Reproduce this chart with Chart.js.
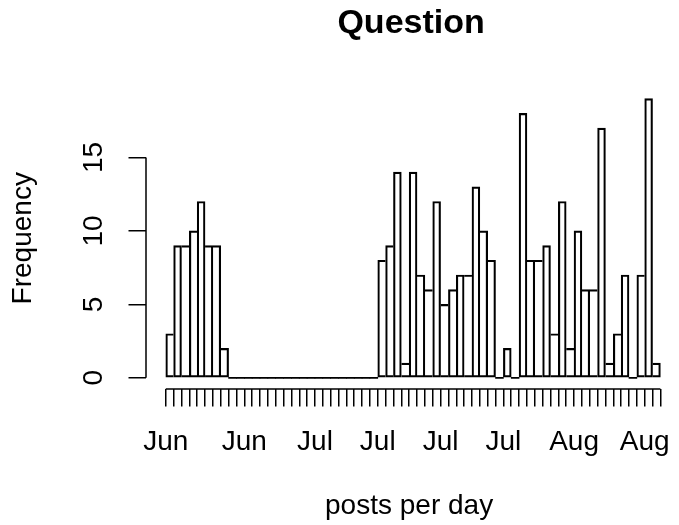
<!DOCTYPE html>
<html>
<head>
<meta charset="utf-8">
<script src="https://cdn.jsdelivr.net/npm/chart.js@4.4.1/dist/chart.umd.min.js"></script>
<style>
html,body{margin:0;padding:0;background:#ffffff;}
canvas{display:block;}
</style>
</head>
<body>
<canvas id="c" width="679" height="525"></canvas>
<script>
// Daily post counts (one bin per day)
const dayCounts = [
  3, 9, 9, 10, 12, 9, 9, 2,
  0, 0, 0, 0, 0, 0, 0, 0, 0, 0, 0, 0, 0, 0, 0, 0, 0, 0, 0,
  8, 9, 14, 1, 14, 7, 6, 12, 5, 6, 7, 7, 13, 10, 8, 0, 2, 0,
  18, 8, 8, 9, 3, 12, 2, 10, 6, 6, 17, 1, 3, 7, 0, 7, 19, 1
];
// x-axis labels shown (bin edge index -> month label)
const monthLabelAt   = [0, 10, 19, 27, 35, 43, 52, 61];
const monthLabelText = ['Jun', 'Jun', 'Jul', 'Jul', 'Jul', 'Jul', 'Aug', 'Aug'];
const yTickValues = [0, 5, 10, 15];
const titleText = 'Question';
const xTitle = 'posts per day';
const yTitle = 'Frequency';

const FONT = '"Liberation Sans", Arial, Helvetica, sans-serif';
const LW = 1.5;
const nBins = dayCounts.length;

Chart.defaults.font.family = FONT;
Chart.defaults.color = '#000';

function sideWidths(ctx) {
  const i = ctx.dataIndex;
  const h = dayCounts[i];
  const prev = i > 0 ? dayCounts[i - 1] : -1;
  const next = i < nBins - 1 ? dayCounts[i + 1] : -1;
  if (h === 0) return 0;
  return {
    top: LW,
    bottom: LW,
    left: h > prev ? LW : 0,
    right: h >= next ? LW : 0
  };
}

const rAxes = {
  id: 'rAxes',
  afterDraw(chart) {
    const { ctx, chartArea, scales } = chart;
    const x = scales.x, y = scales.y;
    ctx.save();
    ctx.strokeStyle = '#000';
    ctx.lineWidth = LW;
    ctx.beginPath();
    ctx.moveTo(x.getPixelForValue(0), chartArea.bottom);
    ctx.lineTo(x.getPixelForValue(nBins), chartArea.bottom);
    ctx.moveTo(chartArea.left, y.getPixelForValue(yTickValues[0]));
    ctx.lineTo(chartArea.left, y.getPixelForValue(yTickValues[yTickValues.length - 1]));
    ctx.stroke();
    ctx.fillStyle = '#000';
    ctx.font = 'bold 34px ' + FONT;
    ctx.textAlign = 'center';
    ctx.textBaseline = 'alphabetic';
    ctx.fillText(titleText, (chartArea.left + chartArea.right) / 2 + 2, 33);
    ctx.restore();
  }
};

new Chart(document.getElementById('c'), {
  type: 'bar',
  data: {
    datasets: [{
      data: dayCounts.map((v, i) => ({ x: i + 0.5, y: v })),
      backgroundColor: (c) => dayCounts[c.dataIndex] === 0 ? '#000' : 'rgba(255,255,255,0)',
      borderColor: '#000',
      borderWidth: sideWidths,
      borderSkipped: false,
      minBarLength: 1,
      inflateAmount: 0.33,
      barPercentage: 1,
      categoryPercentage: 1
    }]
  },
  options: {
    responsive: false,
    animation: false,
    events: [],
    layout: { padding: { top: 87.5, right: 4.5, left: 0, bottom: 0 } },
    plugins: { legend: { display: false }, tooltip: { enabled: false }, title: { display: false } },
    scales: {
      x: {
        type: 'linear',
        min: -2.52,
        max: 64.5,
        offset: false,
        afterFit(s) { s.height = 136; },
        afterBuildTicks(s) {
          const t = [];
          for (let i = 0; i <= nBins; i++) t.push({ value: i });
          s.ticks = t;
        },
        ticks: {
          autoSkip: false,
          maxRotation: 0,
          minRotation: 0,
          padding: 18.5,
          font: { size: 28 },
          color: '#000',
          callback(v) {
            const k = monthLabelAt.indexOf(v);
            return k >= 0 ? monthLabelText[k] : '';
          }
        },
        grid: { display: true, drawOnChartArea: false, drawTicks: true, tickLength: 17.5, color: '#000', lineWidth: LW, offset: false },
        border: { display: false },
        title: { display: true, text: xTitle, font: { size: 28 }, color: '#000', padding: { top: 0, bottom: 1.5 } }
      },
      y: {
        type: 'linear',
        min: -0.76,
        max: 19.76,
        afterFit(s) { s.width = 146; },
        afterBuildTicks(s) { s.ticks = yTickValues.map(v => ({ value: v })); },
        ticks: {
          minRotation: 90,
          maxRotation: 90,
          crossAlign: 'center',
          padding: 18.9,
          font: { size: 28 },
          color: '#000'
        },
        grid: { display: true, drawOnChartArea: false, drawTicks: true, tickLength: 17.5, color: '#000', lineWidth: LW },
        border: { display: false },
        title: { display: true, text: yTitle, font: { size: 28 }, color: '#000', padding: { top: 6.8, bottom: 0 } }
      }
    }
  },
  plugins: [rAxes]
});
</script>
</body>
</html>
